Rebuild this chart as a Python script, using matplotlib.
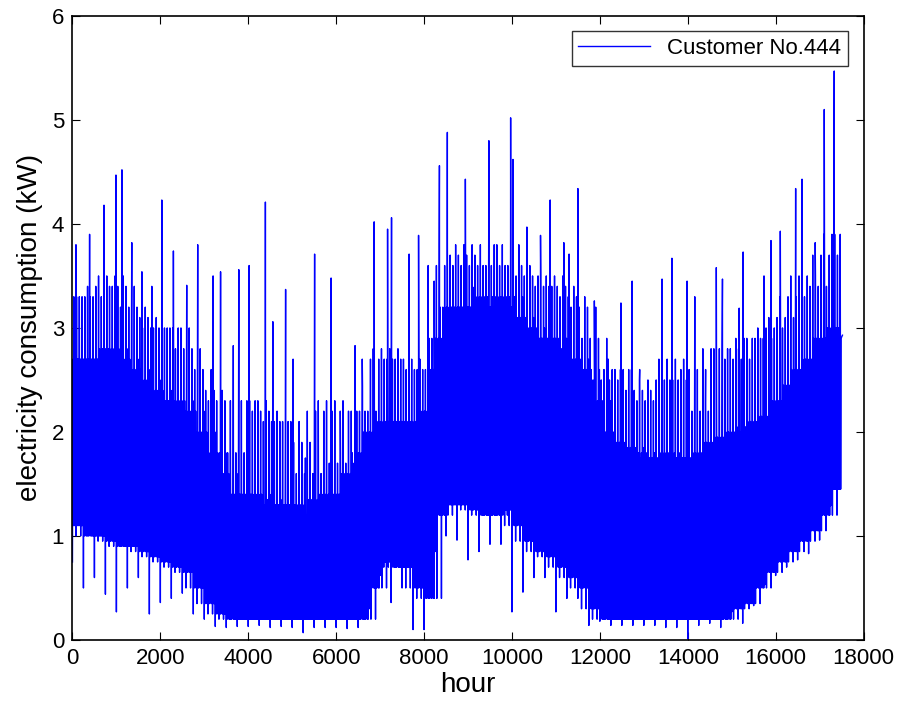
import numpy as np
import matplotlib
matplotlib.use("Agg")
import matplotlib.pyplot as plt

plt.rcParams['font.family'] = ['Liberation Sans', 'DejaVu Sans']

# 250-hour bins
bin_hours = np.arange(0, 17500, 250)
bin_width = 250

low = [0.75, 0.5, 0.6, 0.44, 0.27, 0.5, 0.6, 0.25, 0.36, 0.4,
       0.45, 0.25, 0.2, 0.13, 0.12, 0.13, 0.13, 0.14, 0.12, 0.13,
       0.12, 0.07, 0.12, 0.12, 0.12, 0.11, 0.12, 0.3, 0.62, 0.36,
       0.5, 0.1, 0.1, 0.85, 1.0, 0.96, 0.77, 0.85, 0.92, 0.92,
       0.27, 0.46, 0.6, 0.6, 0.27, 0.4, 0.4, 0.14, 0.18, 0.14,
       0.14, 0.14, 0.14, 0.14, 0.12, 0.12, 0.01, 0.14, 0.16, 0.12,
       0.27, 0.16, 0.33, 0.53, 0.62, 0.7, 0.77, 0.83, 0.96, 1.29]

base = [1.1, 1.0, 1.0, 0.95, 0.9, 0.9, 0.85, 0.8, 0.75, 0.7,
        0.65, 0.5, 0.35, 0.25, 0.2, 0.2, 0.2, 0.2, 0.2, 0.2,
        0.2, 0.2, 0.2, 0.2, 0.2, 0.2, 0.2, 0.5, 0.75, 0.7,
        0.7, 0.5, 0.4, 1.2, 1.3, 1.3, 1.25, 1.2, 1.2, 1.25,
        1.1, 0.95, 0.85, 0.8, 0.7, 0.6, 0.5, 0.3, 0.2, 0.2,
        0.2, 0.2, 0.2, 0.2, 0.2, 0.2, 0.2, 0.2, 0.2, 0.2,
        0.3, 0.35, 0.5, 0.65, 0.75, 0.85, 0.95, 1.05, 1.2, 1.45]

top = [2.7, 2.7, 2.7, 2.8, 2.7, 2.6, 2.5, 2.4, 2.3, 2.3,
       2.2, 2.0, 1.8, 1.6, 1.4, 1.4, 1.4, 1.35, 1.3, 1.3,
       1.3, 1.2, 1.35, 1.4, 1.4, 1.6, 1.8, 2.0, 2.1, 2.1,
       2.1, 2.0, 2.2, 2.9, 3.2, 3.2, 3.2, 3.3, 3.2, 3.3,
       3.1, 3.0, 2.9, 2.9, 2.8, 2.7, 2.6, 2.3, 2.0, 1.9,
       1.85, 1.8, 1.75, 1.75, 1.8, 1.75, 1.75, 1.8, 1.9, 1.95,
       2.0, 2.05, 2.1, 2.15, 2.3, 2.45, 2.6, 2.7, 2.9, 3.0]

mid = [3.3, 3.3, 3.4, 3.5, 3.4, 3.2, 3.1, 3.0, 3.0, 3.0,
       2.8, 2.6, 2.4, 2.3, 1.8, 2.3, 2.3, 2.2, 2.1, 2.1,
       1.9, 1.6, 2.2, 2.3, 1.7, 2.2, 2.2, 2.7, 2.8, 2.7,
       2.7, 2.6, 2.6, 3.6, 3.8, 3.7, 3.6, 3.8, 3.6, 3.8,
       3.6, 3.5, 3.4, 3.5, 3.4, 3.3, 3.2, 2.9, 2.5, 2.6,
       2.6, 2.4, 2.3, 2.5, 2.7, 2.5, 2.6, 2.2, 2.8, 2.8,
       2.7, 2.9, 2.9, 3.0, 3.1, 3.3, 3.5, 3.4, 3.7, 3.9]

peak = [3.8, 3.9, 4.18, 4.47, 4.52, 3.82, 3.54, 3.4, 4.23, 3.74,
        3.41, 3.8, 3.5, 3.54, 2.83, 3.56, 3.6, 4.21, 3.06, 3.37,
        2.7, 1.75, 3.71, 3.48, 1.79, 2.83, 2.44, 4.02, 3.95, 4.06,
        3.71, 3.89, 3.45, 4.56, 4.88, 4.43, 3.39, 4.8, 3.8, 5.02,
        4.62, 3.97, 3.89, 4.23, 3.82, 3.71, 4.34, 3.26, 2.7, 3.24,
        3.45, 2.5, 2.48, 3.47, 3.67, 3.45, 3.3, 2.28, 3.58, 3.47,
        3.19, 3.73, 3.5, 3.84, 3.93, 4.34, 4.43, 3.82, 5.1, 5.47]

peak_hour = [80, 390, 718, 990, 1126, 1350, 1580, 1806, 2033, 2297,
             2600, 2850, 3200, 3370, 3660, 3785, 4020, 4390, 4560, 4850,
             5020, 5300, 5510, 5885, 6100, 6430, 6600, 6865, 7170, 7260,
             7660, 7875, 8230, 8350, 8530, 8940, 9130, 9475, 9600, 9970,
             10023, 10340, 10650, 10870, 11180, 11300, 11500, 11875, 12190, 12480,
             12735, 12900, 13100, 13415, 13640, 13985, 14160, 14400, 14650, 14790,
             15170, 15260, 15735, 15894, 16106, 16455, 16600, 16900, 17106, 17333]

end_hour = 17520
end_value = 2.93

x_ticks = [0, 2000, 4000, 6000, 8000, 10000, 12000, 14000, 16000, 18000]
y_ticks = [0, 1, 2, 3, 4, 5, 6]


def neighbours(v):
    v = np.asarray(v, dtype=float)
    prev = np.concatenate([v[:1], v[:-1]])
    nxt = np.concatenate([v[1:], v[-1:]])
    return v, prev, nxt


L = np.asarray(low, dtype=float)
B, Bp, Bn = neighbours(base)
T, Tp, Tn = neighbours(top)
M, Mp, Mn = neighbours(mid)

# within each bin, visit the read levels of the bin and its neighbours in turn
levels = np.array([L, T, B, M, Bp, Tp, B, T, Bn, Mn, B, Tn,
                   B, T, Bp, Mp, B, Tn, Bn, T, B, M, B, Tp])  # (24, nbins)
n_sub = levels.shape[0]
sub = np.arange(n_sub) / n_sub * bin_width
xs = (bin_hours[:, None] + sub[None, :]).ravel()
ys = levels.T.ravel()
# insert each bin's highest spike at its own hour
xs = np.concatenate([xs, peak_hour, [end_hour]])
ys = np.concatenate([ys, peak, [end_value]])
order = np.argsort(xs, kind='stable')
xs, ys = xs[order], ys[order]

fig = plt.figure(figsize=(9.0, 7.06), dpi=100)
ax = fig.add_axes([0.0805, 0.0935, 0.879, 0.884])
ax.plot(xs, ys, color=(0, 0, 1), lw=1.0, label='Customer No.444')

ax.set_xlim(0, 18000)
ax.set_ylim(0, 6)
ax.set_xticks(x_ticks)
ax.set_yticks(y_ticks)
ax.tick_params(direction='in', length=6, width=0.8, top=True, right=True,
               labelsize=16, pad=6)
for s in ax.spines.values():
    s.set_linewidth(1.2)
ax.set_xlabel('hour', fontsize=20, labelpad=2)
ax.set_ylabel('electricity consumption (kW)', fontsize=20, labelpad=6)

leg = ax.legend(loc='upper right', fontsize=16, frameon=True, fancybox=False,
                handlelength=3.2, borderaxespad=0.7, borderpad=0.3)
leg.get_frame().set_edgecolor('black')
leg.get_frame().set_linewidth(1.0)
leg.get_lines()[0].set_linewidth(1.0)

fig.savefig('out.png', dpi=100)
